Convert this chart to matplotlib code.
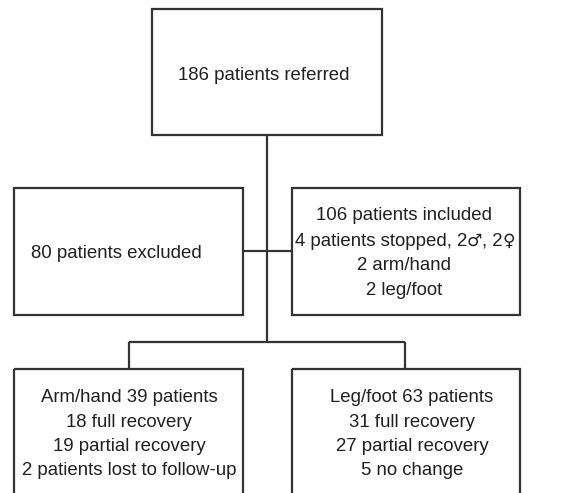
import matplotlib
matplotlib.use("Agg")
import matplotlib.pyplot as plt
from matplotlib.patches import Rectangle

plt.rcParams['font.family'] = ['Liberation Sans', 'DejaVu Sans']

top_text = ["186 patients referred"]
excluded_text = ["80 patients excluded"]
included_text = ["106 patients included", "4 patients stopped, 2\u2642, 2\u2640", "2 arm/hand", "2 leg/foot"]
arm_text = ["Arm/hand 39 patients", "18 full recovery", "19 partial recovery", "2 patients lost to follow-up"]
leg_text = ["Leg/foot 63 patients", "31 full recovery", "27 partial recovery", "5 no change"]

W, H = 580, 493
fig = plt.figure(figsize=(W / 100, H / 100), dpi=100)
ax = fig.add_axes([0, 0, 1, 1])
ax.set_xlim(0, W)
ax.set_ylim(H, 0)
ax.axis('off')

LC = '#333333'
LW = 1.6
TC = '#231f20'
FS = 13.4
SYM = {'\u2642', '\u2640'}

def box(x0, y0, x1, y1):
    ax.add_patch(Rectangle((x0, y0), x1 - x0, y1 - y0, fill=False, edgecolor=LC, linewidth=LW, clip_on=True))

def line(xs, ys):
    ax.plot(xs, ys, color=LC, linewidth=LW, solid_capstyle='butt')

renderer = fig.canvas.get_renderer()

def centered_mixed(xc, y, s):
    # split into runs: normal text and gender symbols (drawn with DejaVu Sans)
    runs = []
    for ch in s:
        is_sym = ch in SYM
        if runs and runs[-1][1] == is_sym:
            runs[-1][0] += ch
        else:
            runs.append([ch, is_sym])
    arts = []
    for txt, is_sym in runs:
        if is_sym:
            t = ax.text(0, y, txt, ha='left', va='baseline', fontsize=FS * 0.92,
                        color=TC, family='DejaVu Sans')
        else:
            t = ax.text(0, y, txt, ha='left', va='baseline', fontsize=FS, color=TC)
        arts.append(t)
    widths = [a.get_window_extent(renderer).width for a in arts]
    x = xc - sum(widths) / 2
    for a, w in zip(arts, widths):
        a.set_x(x)
        x += w

# boxes
box(152, 9, 382, 135)
box(14, 188, 243, 315)
box(292, 188, 520, 315)
box(14, 369, 243, 520)
box(292, 369, 520, 520)

# connectors
line([267, 267], [135, 342])
line([243, 292], [251, 251])
line([129, 405], [342, 342])
line([129, 129], [342, 369])
line([405, 405], [342, 369])

# texts
ax.text(264, 75, top_text[0], ha='center', va='center', fontsize=FS, color=TC)
ax.text(31, 254, excluded_text[0], ha='left', va='center', fontsize=FS, color=TC)
for i, t in enumerate(included_text):
    if any(c in SYM for c in t):
        centered_mixed(405, 216 + i * 24.7 + 5, t)
    else:
        ax.text(404, 216 + i * 24.7, t, ha='center', va='center', fontsize=FS, color=TC)
for i, t in enumerate(arm_text):
    ax.text(129, 398 + i * 24.2, t, ha='center', va='center', fontsize=FS, color=TC)
for i, t in enumerate(leg_text):
    ax.text(412, 398 + i * 24.2, t, ha='center', va='center', fontsize=FS, color=TC)

fig.savefig("out.png", dpi=100, facecolor='white')
